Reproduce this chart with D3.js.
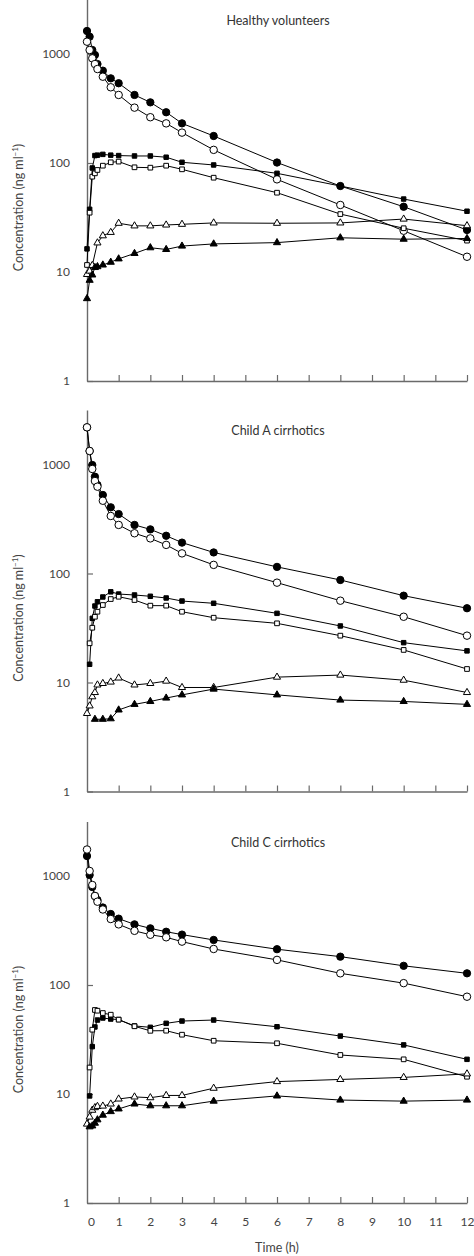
<!DOCTYPE html>
<html>
<head>
<meta charset="utf-8">
<script src="https://cdn.jsdelivr.net/npm/d3@7"></script>
<style>
  html, body { margin: 0; padding: 0; background: #fff; }
  svg { display: block; }
  text { font-family: Lato, "Open Sans", "DejaVu Sans", sans-serif; }
</style>
</head>
<body>
<svg id="chart" width="474" height="1256"></svg>
<script>
// ---------- DATA ----------
const panelTitles = ["Healthy volunteers", "Child A cirrhotics", "Child C cirrhotics"];
const times = [0, 0.083, 0.167, 0.25, 0.33, 0.5, 0.75, 1, 1.5, 2, 2.5, 3, 4, 6, 8, 10, 12];
const xTickValues = [0,1,2,3,4,5,6,7,8,9,10,11,12];
const yTickValues = [1, 10, 100, 1000];
const yTickLabels = ["1", "10", "100", "1000"];
const markerTypes = ["filledCircle", "openCircle", "filledSquare", "openSquare", "openTriangle", "filledTriangle"];

// Healthy volunteers
const hvFilledCircle   = [1625,1442,1088,979,809,703,598,539,421,360,292,231,177,101,61.5,39.7,24.3];
const hvOpenCircle     = [1297,1088,913,809,728,619,495,421,322,263,231,190,132,70.8,41.2,23.9,13.8];
const hvFilledSquare   = [16.3,37.6,90,117,118,120,118,117,116,116,113,101.5,95.9,80.4,61.5,46.7,36.1];
const hvOpenSquare     = [11.6,35,74.9,80.4,86.3,94.5,101.5,103,91.3,90.6,94.5,87.5,73.3,53.4,34,25.2,19.4];
const hvOpenTriangle   = [9.5,10.2,11.5,null,18.5,21.5,23.1,28,26.5,26.5,27,27.4,28.2,28,28.2,30.6,26.6];
const hvFilledTriangle = [5.7,8.4,9.4,11,11.2,11.6,12.3,13.2,14.8,16.7,16.1,17.3,18.1,18.6,20.6,20,20.3];

// Child A cirrhotics
const caFilledCircle   = [2193,1330,989,773,649,525,405,351,279,254,222,192,156,115,87.2,62.6,48];
const caOpenCircle     = [2193,1330,910,706,626,465,337,279,234,210,183,153,120,82.4,56.3,40.1,26.9];
const caFilledSquare   = [null,14.7,38.8,50.3,55,60.9,67.9,64.8,63.5,61.8,59.6,55.9,53.3,43.1,33,23.2,19.5];
const caOpenSquare     = [null,22.9,31.8,40.1,44.6,51.4,58.3,61.2,57.1,50.7,50.7,44.6,39.3,34.9,26.9,19.9,13.3];
const caOpenTriangle   = [5.2,6.1,7.4,8.1,9.5,9.8,10.1,11.0,9.5,9.8,10.3,9.0,9.0,11.2,11.7,10.5,8.1];
const caFilledTriangle = [null,null,null,4.6,null,4.6,4.65,5.6,6.3,6.7,7.2,7.7,8.7,7.7,6.9,6.7,6.3];

// Child C cirrhotics
const ccFilledCircle   = [1525,1021,792,656,602,514,448,406,360,331,308,290,259,213,182,150,128];
const ccOpenCircle     = [1750,1112,827,656,581,493,403,360,314,289,274,250,214,170,128,104,78.1];
const ccFilledSquare   = [null,9.6,27.2,41.2,47.7,49.8,48.7,48.2,42.1,40.9,44.5,46.7,47.7,41.4,34,28.2,20.8];
const ccOpenSquare     = [null,17.5,38.9,59,58.1,55.3,53.4,48.1,41.8,38,38.1,35,30.8,29.2,22.8,20.8,14.4];
const ccOpenTriangle   = [5.3,6.15,7.1,7.5,7.7,7.75,8.1,9.0,9.4,9.25,9.7,9.7,11.3,13,13.6,14.2,15.3];
const ccFilledTriangle = [null,5.0,5.1,5.4,5.8,6.4,6.9,7.3,8.1,7.8,7.8,7.8,8.6,9.6,8.8,8.6,8.8];

const panelSeries = [
  [hvFilledCircle, hvOpenCircle, hvFilledSquare, hvOpenSquare, hvOpenTriangle, hvFilledTriangle],
  [caFilledCircle, caOpenCircle, caFilledSquare, caOpenSquare, caOpenTriangle, caFilledTriangle],
  [ccFilledCircle, ccOpenCircle, ccFilledSquare, ccOpenSquare, ccOpenTriangle, ccFilledTriangle]
];

// ---------- LAYOUT ----------
const W = 474;
const xLeft = 87, xRight = 467;
const panelBottoms = [381, 791.5, 1203];
const decade = 109;
const yMax = Math.pow(10, 3.5);
const axisColor = "#6a6a6a";
const textColor = "#444";

const svg = d3.select("#chart");
const x = d3.scaleLinear().domain([0, 12]).range([xLeft, xRight]);

const sym = {
  filledCircle:  { type: d3.symbolCircle,   size: 42, fill: "#000" },
  openCircle:    { type: d3.symbolCircle,   size: 44, fill: "#fff" },
  filledSquare:  { type: d3.symbolSquare,   size: 20, fill: "#000" },
  openSquare:    { type: d3.symbolSquare,   size: 22, fill: "#fff" },
  openTriangle:  { type: d3.symbolTriangle, size: 22, fill: "#fff" },
  filledTriangle:{ type: d3.symbolTriangle, size: 22, fill: "#000" }
};

panelTitles.forEach((title, p) => {
  const bottom = panelBottoms[p];
  const top = bottom - 3.5 * decade;
  const y = d3.scaleLog().domain([1, yMax]).range([bottom, top]);
  const g = svg.append("g");

  // y axis
  const yAxis = d3.axisLeft(y)
    .tickValues(yTickValues)
    .tickFormat((d, i) => yTickLabels[i])
    .tickSizeInner(-6).tickSizeOuter(0).tickPadding(17);
  const ya = g.append("g").attr("transform", `translate(${xLeft},0)`).call(yAxis);
  ya.select(".domain").attr("stroke", axisColor).attr("stroke-width", 1.4);
  ya.selectAll(".tick line").attr("stroke", axisColor).attr("stroke-width", 1.2);
  ya.selectAll(".tick text").attr("fill", textColor).attr("font-size", 12)
    .style("font-family", "Lato, 'Open Sans', sans-serif");

  // x axis
  const isLast = p === panelTitles.length - 1;
  const xAxis = d3.axisBottom(x)
    .tickValues(xTickValues)
    .tickFormat(d => isLast ? String(d) : "")
    .tickSizeInner(-6).tickSizeOuter(0).tickPadding(14);
  const xa = g.append("g").attr("transform", `translate(0,${bottom})`).call(xAxis);
  xa.select(".domain").attr("stroke", axisColor).attr("stroke-width", 1.4);
  xa.selectAll(".tick line").attr("stroke", axisColor).attr("stroke-width", 1.2)
    .filter(d => d === 0).remove();
  xa.selectAll(".tick text").attr("fill", textColor).attr("font-size", 12)
    .style("font-family", "Lato, 'Open Sans', sans-serif")
    .attr("dx", d => d === 0 ? 4 : 0);

  // panel title
  g.append("text")
    .attr("x", 278).attr("y", top + 25)
    .attr("text-anchor", "middle")
    .attr("font-size", 12.5).attr("fill", "#333")
    .text(title);

  // y axis title
  const yt = g.append("text")
    .attr("transform", `translate(23,${top + 208}) rotate(-90)`)
    .attr("text-anchor", "middle")
    .attr("font-size", 12.5).attr("fill", textColor);
  yt.append("tspan").text("Concentration (ng ml");
  yt.append("tspan").attr("font-size", 8).attr("dy", -5).text("\u22121");
  yt.append("tspan").attr("dy", 5).text(")");

  // lines
  const series = panelSeries[p];
  series.forEach((vals, s) => {
    const pts = times.map((t, i) => ({ t, v: vals[i] })).filter(d => d.v != null);
    const line = d3.line().x(d => x(d.t)).y(d => y(d.v));
    g.append("path").datum(pts)
      .attr("d", line)
      .attr("fill", "none").attr("stroke", "#000").attr("stroke-width", 1);
  });
  // markers
  series.forEach((vals, s) => {
    const m = sym[markerTypes[s]];
    const pts = times.map((t, i) => ({ t, v: vals[i] })).filter(d => d.v != null);
    g.append("g").selectAll("path").data(pts).join("path")
      .attr("transform", d => `translate(${x(d.t)},${y(d.v)})`)
      .attr("d", d3.symbol().type(m.type).size(m.size))
      .attr("fill", m.fill).attr("stroke", "#000").attr("stroke-width", 1);
  });

  if (isLast) {
    g.append("text")
      .attr("x", 277).attr("y", 1252)
      .attr("text-anchor", "middle")
      .attr("font-size", 12.5).attr("fill", textColor)
      .text("Time (h)");
  }
});
</script>
</body>
</html>
